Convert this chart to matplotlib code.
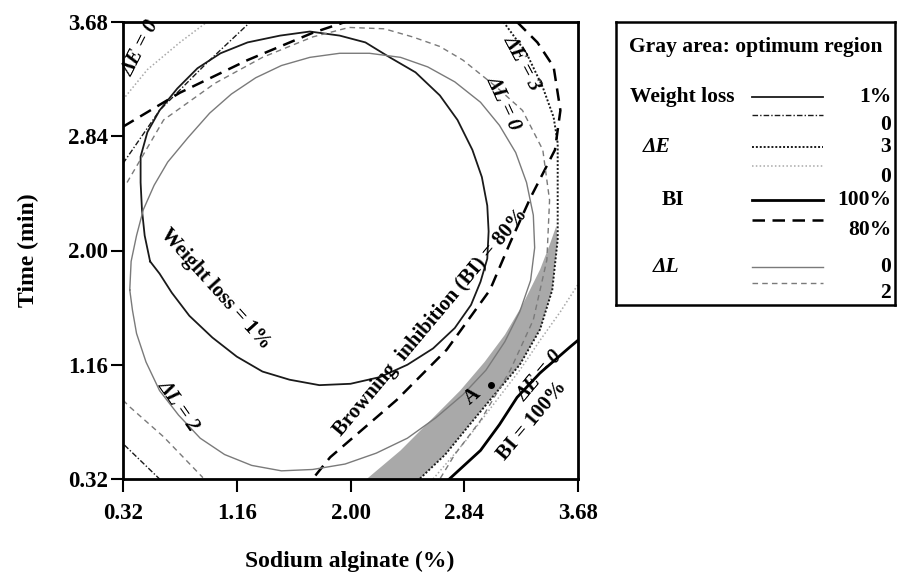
import matplotlib
matplotlib.use("Agg")
import matplotlib.pyplot as plt

plt.rcParams['font.family'] = ['Liberation Serif', 'DejaVu Serif']

# ---------------- data (data units) ----------------
ticks = [0.32, 1.16, 2.00, 2.84, 3.68]
tick_labels = ["0.32", "1.16", "2.00", "2.84", "3.68"]

# Weight loss = 1 % (closed contour)
wl1_x = [0.52, 0.48, 0.46, 0.45, 0.45, 0.50, 0.59, 0.72, 0.87, 1.04, 1.24, 1.48, 1.70, 1.92,
         2.11, 2.29, 2.48, 2.66, 2.79, 2.90, 2.97, 3.01, 3.02, 3.01, 2.96, 2.89, 2.77, 2.61,
         2.42, 2.22, 2.00, 1.77, 1.55, 1.35, 1.16, 0.98, 0.81, 0.68, 0.59, 0.52]
wl1_y = [1.92, 2.11, 2.30, 2.50, 2.69, 2.87, 3.03, 3.19, 3.34, 3.45, 3.53, 3.58, 3.61, 3.58,
         3.53, 3.42, 3.31, 3.14, 2.96, 2.74, 2.54, 2.33, 2.14, 1.94, 1.77, 1.60, 1.43, 1.28,
         1.16, 1.07, 1.02, 1.01, 1.05, 1.11, 1.22, 1.36, 1.52, 1.69, 1.83, 1.92]
# Weight loss = 0 (two corner pieces)
wl0a_x = [0.32, 0.59, 0.94, 1.26]
wl0a_y = [2.64, 3.03, 3.38, 3.68]
wl0b_x = [0.33, 0.59]
wl0b_y = [0.57, 0.32]
# dE = 3
de3_x = [3.13, 3.30, 3.42, 3.50, 3.53, 3.53, 3.53, 3.49, 3.40, 3.25, 3.08, 2.88, 2.70, 2.51]
de3_y = [3.68, 3.45, 3.20, 2.98, 2.79, 2.50, 2.08, 1.71, 1.42, 1.16, 0.96, 0.72, 0.50, 0.32]
# dE = 0 (two pieces)
de0a_x = [0.32, 0.50, 0.74, 0.94]
de0a_y = [3.11, 3.33, 3.53, 3.68]
de0b_x = [2.61, 2.85, 3.08, 3.25, 3.40, 3.55, 3.68]
de0b_y = [0.32, 0.60, 0.90, 1.12, 1.34, 1.55, 1.75]
# BI = 100 %
bi100_x = [2.73, 2.96, 3.10, 3.23, 3.40, 3.62, 3.68]
bi100_y = [0.32, 0.53, 0.72, 0.92, 1.10, 1.29, 1.34]
# BI = 80 % (two pieces)
bi80a_x = [0.32, 0.74, 1.24, 1.72, 1.96]
bi80a_y = [2.91, 3.16, 3.40, 3.60, 3.68]
bi80b_x = [3.23, 3.38, 3.50, 3.55, 3.51, 3.33, 3.18, 3.03, 2.71, 2.34, 1.85, 1.72]
bi80b_y = [3.68, 3.53, 3.35, 3.03, 2.74, 2.39, 2.06, 1.71, 1.27, 0.90, 0.48, 0.32]
# dL = 0 (closed contour)
dl0_x = [0.37, 0.38, 0.42, 0.47, 0.55, 0.65, 0.80, 0.96, 1.12, 1.30, 1.49, 1.70, 1.92, 2.14,
         2.37, 2.57, 2.77, 2.96, 3.10, 3.22, 3.30, 3.35, 3.36, 3.33, 3.25, 3.14, 3.00, 2.83,
         2.63, 2.42, 2.19, 1.96, 1.72, 1.49, 1.27, 1.07, 0.89, 0.73, 0.59, 0.49, 0.42, 0.39, 0.37]
dl0_y = [1.71, 1.92, 2.11, 2.30, 2.48, 2.65, 2.83, 3.01, 3.15, 3.27, 3.36, 3.42, 3.45, 3.45,
         3.42, 3.35, 3.24, 3.09, 2.92, 2.72, 2.50, 2.26, 2.02, 1.78, 1.55, 1.33, 1.12, 0.94,
         0.77, 0.62, 0.51, 0.43, 0.39, 0.38, 0.42, 0.50, 0.62, 0.79, 0.97, 1.18, 1.39, 1.56, 1.71]
# dL = 2 (two pieces)
dl2a_x = [0.35, 0.62, 1.00, 1.35, 1.72, 1.99, 2.25, 2.46, 2.66, 2.83, 3.08, 3.27, 3.42, 3.47,
          3.45, 3.35, 3.18, 2.96, 2.77, 2.66]
dl2a_y = [2.50, 2.96, 3.23, 3.42, 3.57, 3.64, 3.63, 3.57, 3.50, 3.40, 3.20, 3.03, 2.74, 2.37,
          1.93, 1.49, 1.12, 0.75, 0.50, 0.32]
dl2b_x = [0.32, 0.37, 0.62, 0.91]
dl2b_y = [0.90, 0.85, 0.63, 0.33]
# optimum (gray) region outline: left edge upward, then right edge downward
opt_x = [2.12, 2.37, 2.59, 2.81, 2.99, 3.14, 3.27, 3.40, 3.47, 3.52,
         3.53, 3.49, 3.40, 3.25, 3.08, 2.88, 2.70, 2.51]
opt_y = [0.32, 0.53, 0.75, 0.97, 1.18, 1.38, 1.60, 1.86, 2.04, 2.18,
         2.08, 1.71, 1.42, 1.16, 0.96, 0.72, 0.50, 0.32]
# point A
pA_x = [3.04]
pA_y = [1.01]

# ---------------- styles ----------------
DARK = '#1a1a1a'
GRAY = '#7a7a7a'
LIGHT = '#a8a8a8'
st = {
    'wl1': dict(color=DARK, lw=1.3, ls='-'),
    'wl0': dict(color=DARK, lw=1.0, ls=(0, (4, 1.5, 1, 1.5))),
    'de3': dict(color=DARK, lw=1.4, ls=(0, (1, 1))),
    'de0': dict(color=LIGHT, lw=1.1, ls=(0, (1, 1.5))),
    'bi100': dict(color='black', lw=2.0, ls='-'),
    'bi80': dict(color='black', lw=1.8, ls=(0, (5, 3))),
    'dl0': dict(color=GRAY, lw=1.0, ls='-'),
    'dl2': dict(color=GRAY, lw=1.0, ls=(0, (4, 3))),
}

fig = plt.figure(figsize=(8.97, 5.80), dpi=100)
ax = fig.add_axes([123 / 897, 1 - 479 / 580, 455 / 897, 457 / 580])

ax.fill(opt_x, opt_y, color='#a9a9a9', lw=0, zorder=1)
ax.plot(wl1_x, wl1_y, **st['wl1'])
ax.plot(wl0a_x, wl0a_y, **st['wl0'])
ax.plot(wl0b_x, wl0b_y, **st['wl0'])
ax.plot(de3_x, de3_y, **st['de3'])
ax.plot(de0a_x, de0a_y, **st['de0'])
ax.plot(de0b_x, de0b_y, **st['de0'])
ax.plot(bi100_x, bi100_y, **st['bi100'])
ax.plot(bi80a_x, bi80a_y, **st['bi80'])
ax.plot(bi80b_x, bi80b_y, **st['bi80'])
ax.plot(dl0_x, dl0_y, **st['dl0'])
ax.plot(dl2a_x, dl2a_y, **st['dl2'])
ax.plot(dl2b_x, dl2b_y, **st['dl2'])
ax.plot(pA_x, pA_y, 'o', color='black', ms=4)

ax.set_xlim(0.32, 3.68)
ax.set_ylim(0.32, 3.68)
ax.set_xticks(ticks)
ax.set_xticklabels(tick_labels)
ax.set_yticks(ticks)
ax.set_yticklabels(tick_labels)
for s in ax.spines.values():
    s.set_linewidth(2.0)
ax.tick_params(direction='out', length=9, width=1.5, labelsize=16.5, pad=2)
ax.tick_params(axis='x', pad=8)
for lab in ax.get_xticklabels() + ax.get_yticklabels():
    lab.set_fontweight('bold')

fs = 15
tk = dict(fontsize=fs, fontweight='bold', ha='center', va='center')
ax.text(0.45, 3.49, 'ΔE = 0', rotation=63, style='italic', **tk)
ax.text(1.00, 1.72, 'Weight loss = 1%', rotation=-48, **tk)
ax.text(0.73, 0.86, 'ΔL = 2', rotation=-55, style='italic', **tk)
ax.text(3.13, 3.08, 'ΔL = 0', rotation=-65, style='italic', **tk)
ax.text(3.27, 3.38, 'ΔE = 3', rotation=-62, style='italic', **tk)
ax.text(2.59, 1.47, 'Browning  inhibition (BI) = 80%', rotation=50, **tk)
ax.text(2.90, 0.93, 'A', rotation=40, **tk)
ax.text(3.40, 1.08, 'ΔE = 0', rotation=50, style='italic', **tk)
ax.text(3.34, 0.75, 'BI = 100%', rotation=50, **tk)

fig.text(28 / 897, 1 - 250 / 580, 'Time (min)', rotation=90, fontsize=17,
         fontweight='bold', ha='center', va='center')
fig.text(350 / 897, 1 - 561 / 580, 'Sodium alginate (%)', fontsize=17,
         fontweight='bold', ha='center', va='center')

# ---------------- legend box ----------------
lg = fig.add_axes([616 / 897, 1 - 305 / 580, 279 / 897, 283 / 580])
lg.set_xlim(616, 895)
lg.set_ylim(305, 22)
lg.set_xticks([])
lg.set_yticks([])
for s in lg.spines.values():
    s.set_linewidth(1.8)

lf = 15.5
lg.text(629, 47, 'Gray area: optimum region', fontsize=lf, fontweight='bold', va='center')
groups = [
    ('Weight loss', 630, 'normal', [('wl1', 97, '1%', 97), ('wl0', 115, '0', 125)]),
    ('ΔE', 643, 'italic', [('de3', 147, '3', 147), ('de0', 166, '0', 177)]),
    ('BI', 662, 'normal', [('bi100', 200, '100%', 200), ('bi80', 220, '80%', 230)]),
    ('ΔL', 653, 'italic', [('dl0', 267, '0', 267), ('dl2', 283, '2', 293)]),
]
for name, nx, sty, rows in groups:
    lg.text(nx, rows[0][1], name, fontsize=lf, fontweight='bold', style=sty, va='center')
    for key, ly, val, vy in rows:
        lg.plot([752, 823], [ly, ly], **st[key])
        lg.text(891, vy, val, fontsize=lf, fontweight='bold', ha='right', va='center')

fig.savefig('out.png', dpi=100)
